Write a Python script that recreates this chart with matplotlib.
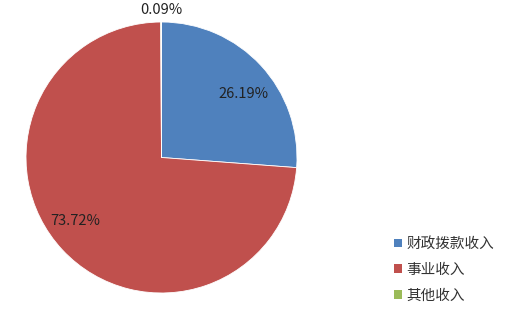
import numpy as np
import matplotlib.pyplot as plt
from matplotlib.patches import Patch

plt.rcParams['font.family'] = ['Noto Sans CJK SC', 'DejaVu Sans']

# 数据
categories = ["财政拨款收入", "事业收入", "其他收入"]
values = [26.19, 73.72, 0.09]
labels = ["26.19%", "73.72%", "0.09%"]
colors = ["#4F81BD", "#C0504D", "#9BBB59"]

fig = plt.figure(figsize=(5.11, 3.17), dpi=100)
ax = fig.add_axes([26 / 511, 24 / 317, 271 / 511, 271 / 317])

wedges, _ = ax.pie(values, colors=colors, startangle=90, counterclock=False,
                   radius=1, wedgeprops=dict(linewidth=0.6, edgecolor="white"))
ax.set_xlim(-1, 1)
ax.set_ylim(-1, 1)
ax.set_aspect("equal")
ax.axis("off")

# 百分比标签（半径, 角度偏移）
label_r = [0.765, 0.79, 1.09]
label_shift = [-5.4, -6.4, 0]
for w, lab, r, d in zip(wedges, labels, label_r, label_shift):
    ang = np.deg2rad((w.theta1 + w.theta2) / 2 + d)
    ax.text(r * np.cos(ang), r * np.sin(ang), lab, ha="center", va="center",
            fontsize=10.5, color="#222222", clip_on=False)

handles = [Patch(facecolor=c, edgecolor="none") for c in colors]
fig.legend(handles, categories, loc="upper left", bbox_to_anchor=(381 / 511, 1 - 224 / 317),
           frameon=False, fontsize=10.5, handlelength=0.55, handleheight=0.55,
           handletextpad=0.3, labelspacing=0.8, labelcolor="#333333")

fig.savefig("out.png", dpi=100)
